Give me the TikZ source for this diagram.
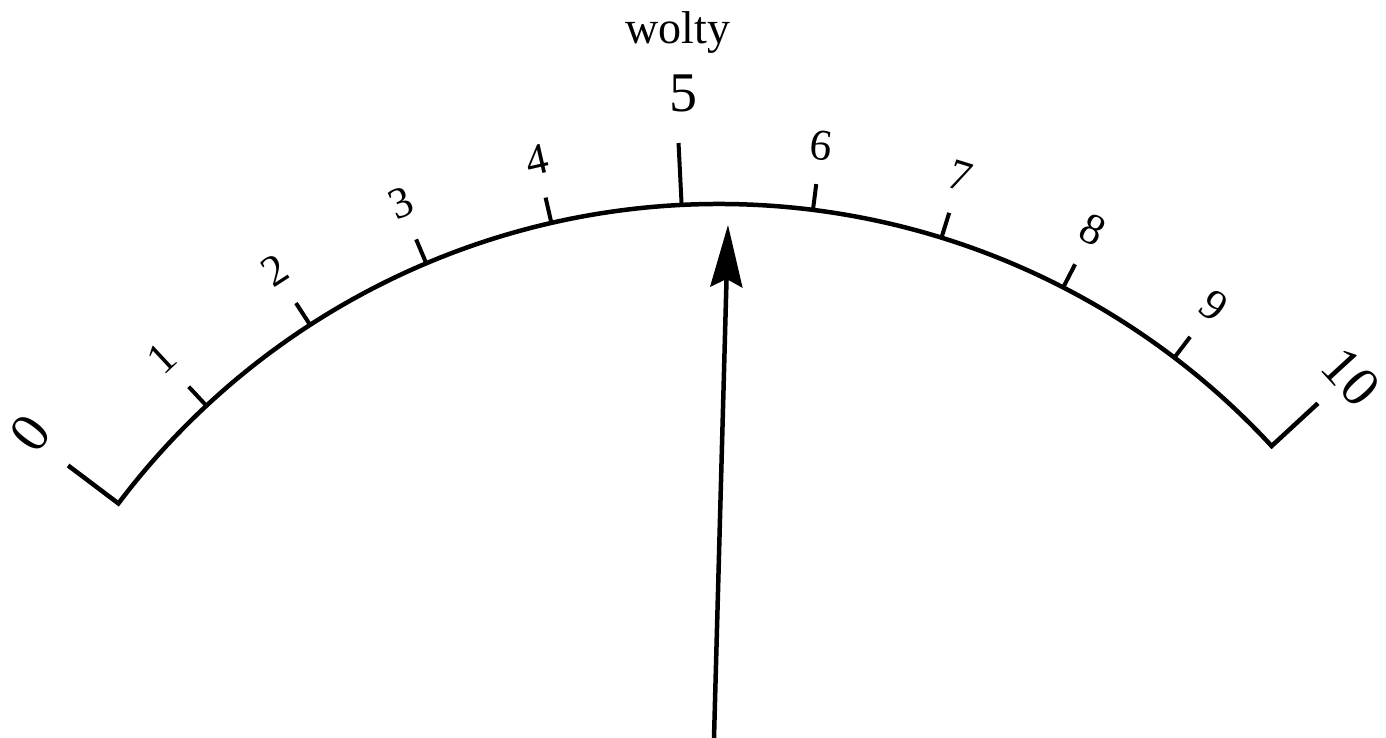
\documentclass[tikz,border=0pt]{standalone}
\usepackage{fontspec}
\setmainfont{Liberation Serif}
\usetikzlibrary{arrows.meta}
\begin{document}
\begin{tikzpicture}[x=1pt,y=1pt,
  scaleline/.style={line width=4.5pt, line join=miter},
  tickline/.style={line width=4pt},
  needle/.style={line width=4.5pt, -{Stealth[length=62pt,width=32pt,inset=8pt]}},
  ticklbl/.style={font=\fontsize{44}{44}\selectfont, inner sep=0pt},
  biglbl/.style={font=\fontsize{56}{56}\selectfont, inner sep=0pt},
  unitlbl/.style={font=\fontsize{46}{46}\selectfont, inner sep=0pt}]
\useasboundingbox (0,0) rectangle (1386,738);
\coordinate (c) at (719,-218);
% arc with end ticks
\coordinate (s0) at ([shift={(143:752pt)}]c);
\coordinate (e0) at ([shift={(143:815pt)}]c);
\coordinate (s10) at ([shift={(42.7:752pt)}]c);
\coordinate (e10) at ([shift={(42.7:815pt)}]c);
\draw[scaleline] (e0) -- (s0) arc[start angle=143, end angle=42.7, radius=752pt] -- (e10);
% inner ticks
\foreach \v in {1,2,3,4,6,7,8,9}{
  \pgfmathsetmacro\a{143-10.03*\v}
  \pgfmathsetmacro\rot{\a-90}
  \coordinate (s\v) at ([shift={(\a:752pt)}]c);
  \coordinate (e\v) at ([shift={(\a:778pt)}]c);
  \draw[tickline] (s\v) -- (e\v);
  \node[ticklbl, rotate=\rot] (l\v) at ([shift={(\a:817pt)}]c) {\v};
}
% tick 5
\pgfmathsetmacro\af{143-10.03*5}
\coordinate (s5) at ([shift={(\af:752pt)}]c);
\coordinate (e5) at ([shift={(\af:814pt)}]c);
\draw[tickline] (s5) -- (e5);
\node[biglbl] (l5) at (683,645) {5};
\node[biglbl, rotate=53] (l0) at ([shift={(142.8:865pt)}]c) {0};
\node[biglbl, rotate=-47.5] (l10) at ([shift={(42.5:857pt)}]c) {10};
\node[unitlbl] (unit) at (678,705) {wolty};
% needle
\coordinate (nb) at (714,0);
\coordinate (nt) at (728,513);
\draw[needle] (nb) -- (nt);
\end{tikzpicture}
\end{document}
